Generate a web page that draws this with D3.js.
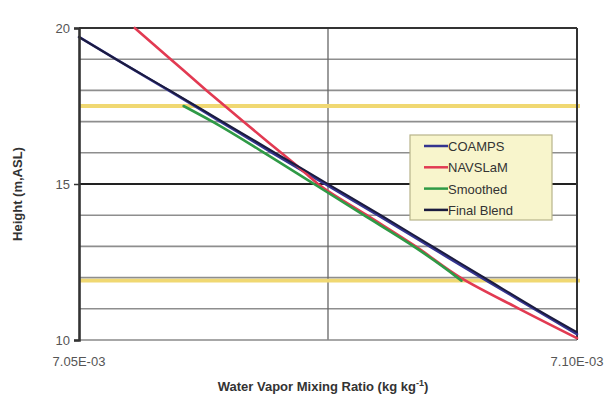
<!DOCTYPE html>
<html>
<head>
<meta charset="utf-8">
<script src="https://cdn.jsdelivr.net/npm/d3@7"></script>
<style>
  html, body { margin: 0; padding: 0; background: #fff; }
  svg { display: block; font-family: Arial, "Liberation Sans", sans-serif; }
</style>
</head>
<body>
<svg id="chart" width="616" height="396"></svg>
<script>
// Mixing ratio profiles (kg/kg, in units of 1E-03) against height (m, ASL)
const coampsHeight = [19.71, 19, 18, 17, 16, 15, 14, 13, 12, 11, 10.19];
const coampsRatio  = [7.0500, 7.0537, 7.0590, 7.0642, 7.0694, 7.0747, 7.0800, 7.0852, 7.0904, 7.0957, 7.1000];

const navslamHeight = [20, 19, 18, 17, 16, 15.5, 15, 14, 13, 12, 11, 10.06];
const navslamRatio  = [7.0556, 7.0592, 7.0628, 7.0665, 7.0703, 7.0722, 7.0740, 7.0789, 7.0838, 7.0883, 7.0942, 7.1000];

const smoothedHeight = [17.5, 17, 16, 15, 14, 13, 12, 11.9];
const smoothedRatio  = [7.0605, 7.0634, 7.0686, 7.0736, 7.0786, 7.0836, 7.0880, 7.0884];

const blendHeight = [19.71, 19, 18, 17, 16, 15, 14, 13, 12, 11, 10.25];
const blendRatio  = [7.0500, 7.0537, 7.0591, 7.0644, 7.0697, 7.0750, 7.0803, 7.0855, 7.0907, 7.0959, 7.1000];

// Blending zone limits
const blendZone = [17.5, 11.9];

// Axis ticks
const yTicks = [10, 15, 20];
const yGrid = [11, 12, 13, 14, 16, 17, 18, 19];
const xTicks = [7.05, 7.10];
const xTickLabels = ["7.05E-03", "7.10E-03"];
const xMid = 7.075;

const seriesNames = ["COAMPS", "NAVSLaM", "Smoothed", "Final Blend"];
const seriesColors = ["#34348f", "#e23a52", "#2f9a46", "#1b1b3e"];

const series = [
  { h: coampsHeight, r: coampsRatio },
  { h: navslamHeight, r: navslamRatio },
  { h: smoothedHeight, r: smoothedRatio },
  { h: blendHeight, r: blendRatio }
];

const svg = d3.select("#chart");
const m = { left: 79, right: 577, top: 28, bottom: 340 };

const x = d3.scaleLinear().domain([7.05, 7.10]).range([m.left, m.right]);
const y = d3.scaleLinear().domain([10, 20]).range([m.bottom, m.top]);

// Horizontal gridlines
svg.append("g").selectAll("line").data(yGrid).join("line")
  .attr("x1", m.left).attr("x2", m.right)
  .attr("y1", d => y(d)).attr("y2", d => y(d))
  .attr("stroke", "#8e8e8e").attr("stroke-width", 1.6);

// Vertical midline
svg.append("line")
  .attr("x1", x(xMid)).attr("x2", x(xMid))
  .attr("y1", m.top).attr("y2", m.bottom)
  .attr("stroke", "#666").attr("stroke-width", 1.3);

// Heavy line at 15
svg.append("line")
  .attr("x1", m.left).attr("x2", m.right)
  .attr("y1", y(15)).attr("y2", y(15))
  .attr("stroke", "#222").attr("stroke-width", 2.2);

// Blend zone limits
svg.append("g").selectAll("line").data(blendZone).join("line")
  .attr("x1", m.left).attr("x2", m.right + 3)
  .attr("y1", d => y(d)).attr("y2", d => y(d))
  .attr("stroke", "#f0d872").attr("stroke-width", 3.8);

// Frame
svg.append("line").attr("x1", m.left).attr("x2", m.right).attr("y1", m.top).attr("y2", m.top)
  .attr("stroke", "#333").attr("stroke-width", 2);
svg.append("line").attr("x1", m.right).attr("x2", m.right).attr("y1", m.top).attr("y2", m.bottom)
  .attr("stroke", "#333").attr("stroke-width", 2);
svg.append("line").attr("x1", m.left).attr("x2", m.right).attr("y1", m.bottom).attr("y2", m.bottom)
  .attr("stroke", "#8a8a8a").attr("stroke-width", 1.6);

// Profiles
const line = d3.line()
  .x(d => x(d[1]))
  .y(d => y(d[0]))
  .curve(d3.curveMonotoneY);

svg.append("g").selectAll("path").data(series).join("path")
  .attr("d", s => line(s.h.map((h, i) => [h, s.r[i]])))
  .attr("fill", "none")
  .attr("stroke", (s, i) => seriesColors[i])
  .attr("stroke-width", (s, i) => i === 3 ? 2 : 2.6)
  .attr("stroke-linecap", "round");

// Y axis
const yAxis = d3.axisLeft(y).tickValues(yTicks).tickSize(5).tickPadding(4).tickFormat(d3.format("d"));
const ga = svg.append("g").attr("transform", `translate(${m.left},0)`).call(yAxis);
ga.select(".domain").attr("stroke", "#333").attr("stroke-width", 2.6);
ga.selectAll(".tick line").attr("stroke", "#333").attr("stroke-width", 1.5);
ga.selectAll(".tick text").attr("font-size", 13).attr("fill", "#555")
  .attr("font-family", "Arial, 'Liberation Sans', sans-serif");

// X tick labels
svg.append("g").selectAll("text").data(xTicks).join("text")
  .attr("x", d => x(d)).attr("y", 366)
  .attr("text-anchor", "middle")
  .attr("font-size", 13).attr("fill", "#555")
  .text((d, i) => xTickLabels[i]);

// Axis titles
const xt = svg.append("text")
  .attr("x", 323).attr("y", 391)
  .attr("text-anchor", "middle")
  .attr("font-size", 13).attr("font-weight", "bold").attr("fill", "#333");
xt.append("tspan").text("Water Vapor Mixing Ratio (kg kg");
xt.append("tspan").attr("font-size", 9).attr("dy", -5).text("-1");
xt.append("tspan").attr("dy", 5).text(")");

svg.append("text")
  .attr("transform", "translate(22,194) rotate(-90)")
  .attr("text-anchor", "middle")
  .attr("font-size", 13).attr("font-weight", "bold").attr("fill", "#333")
  .text("Height (m,ASL)");

// Legend
const lg = svg.append("g").attr("transform", "translate(410,135)");
lg.append("rect").attr("width", 142).attr("height", 85)
  .attr("fill", "#f8f5cc").attr("stroke", "#b8b48a").attr("stroke-width", 1.2);
const items = lg.selectAll("g.item").data(seriesNames).join("g")
  .attr("class", "item")
  .attr("transform", (d, i) => `translate(0,${11 + i * 21.3})`);
items.append("line")
  .attr("x1", 14).attr("x2", 38).attr("y1", 0).attr("y2", 0)
  .attr("stroke", (d, i) => seriesColors[i]).attr("stroke-width", 2.5);
items.append("text")
  .attr("x", 38).attr("y", 5)
  .attr("font-size", 13).attr("fill", "#333")
  .text(d => d);
</script>
</body>
</html>
